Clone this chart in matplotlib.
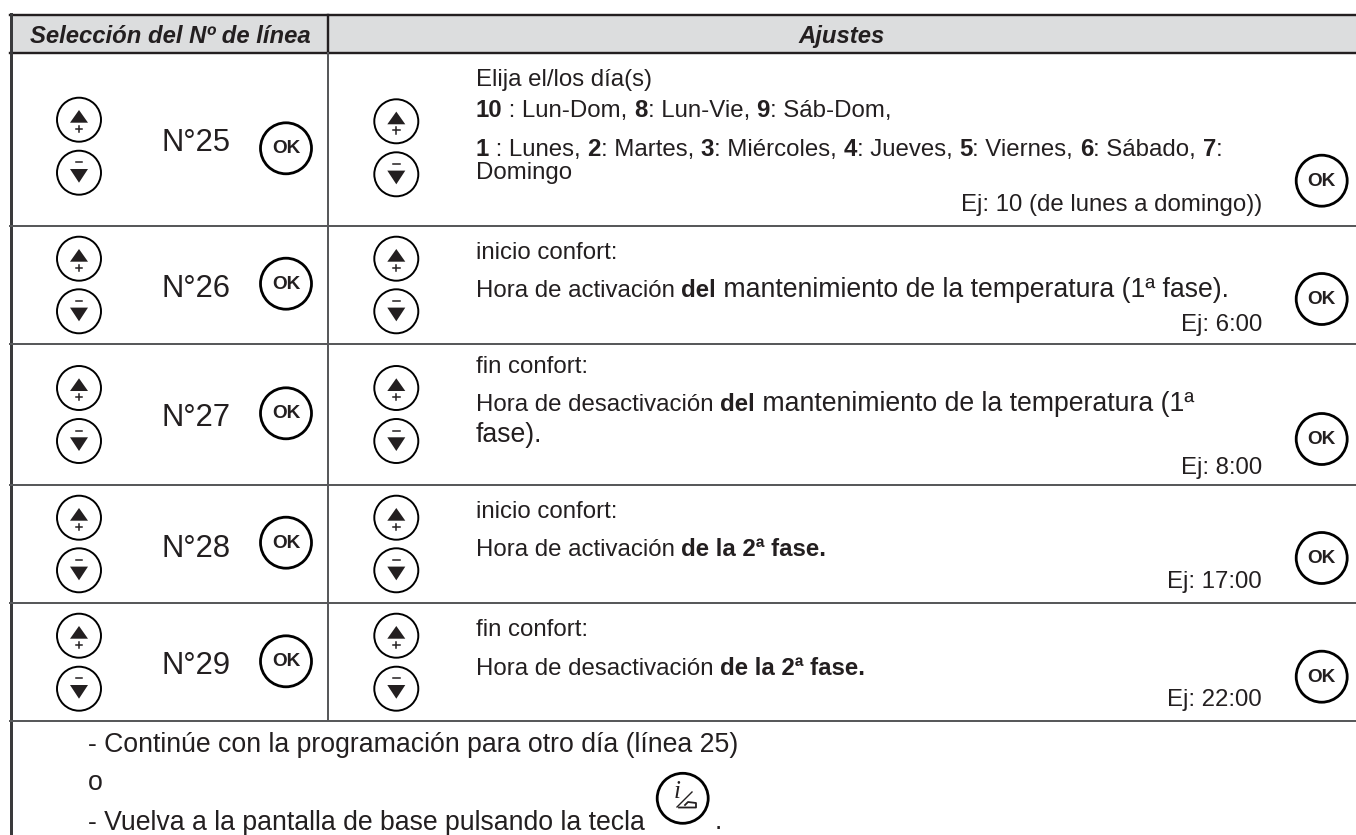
import matplotlib
matplotlib.use('Agg')
import matplotlib.pyplot as plt
from matplotlib.patches import Circle, Ellipse, Polygon, Rectangle

plt.rcParams['font.family'] = ['Liberation Sans', 'DejaVu Sans']

# contenido de la tabla
headers = ['Selección del Nº de línea', 'Ajustes']
line_nums = ['N°25', 'N°26', 'N°27', 'N°28', 'N°29']
examples = ['Ej: 10 (de lunes a domingo))', 'Ej: 6:00', 'Ej: 8:00', 'Ej: 17:00', 'Ej: 22:00']
# each line: (baseline y, [(text, bold, size in px)])
S = 24
L = 26.6
settings = [
    (86, [('Elija el/los día(s)', False, S)]),
    (116.7, [('10', True, S), (' : Lun-Dom, ', False, S), ('8', True, S), (': Lun-Vie, ', False, S),
             ('9', True, S), (': Sáb-Dom,', False, S)]),
    (156, [('1', True, S), (' : Lunes, ', False, S), ('2', True, S), (': Martes, ', False, S),
           ('3', True, S), (': Miércoles, ', False, S), ('4', True, S), (': Jueves, ', False, S),
           ('5', True, S), (': Viernes, ', False, S), ('6', True, S), (': Sábado, ', False, S),
           ('7', True, S), (':', False, S)]),
    (179.3, [('Domingo', False, S)]),
    (259.3, [('inicio confort:', False, S)]),
    (296.7, [('Hora de activación ', False, S), ('del', True, S),
             (' mantenimiento de la temperatura (1ª fase).', False, L)]),
    (373.3, [('fin confort:', False, S)]),
    (410.7, [('Hora de desactivación ', False, S), ('del', True, S),
             (' mantenimiento de la temperatura (1ª', False, L)]),
    (441.7, [('fase).', False, L)]),
    (518.3, [('inicio confort:', False, S)]),
    (555.7, [('Hora de activación ', False, S), ('de la 2ª fase.', True, S)]),
    (635.7, [('fin confort:', False, S)]),
    (675, [('Hora de desactivación ', False, S), ('de la 2ª fase.', True, S)]),
]
footer = ['- Continúe con la programación para otro día (línea 25)', 'o',
          '- Vuelva a la pantalla de base pulsando la tecla']

INK = '#231f20'
GRID = '#58595b'
px = 0.72  # px -> pt at dpi 100

# layout in image pixels
row_edges = [52.5, 225.5, 344, 484.7, 602.7, 721.3]
up_y = [119.7, 258.7, 388, 517.7, 635.7]
down_y = [172.7, 311.3, 441, 570.3, 688.7]
up_y2 = [121.3, 258.7, 388, 517.7, 635.7]
down_y2 = [174.3, 311.3, 441, 570.3, 688.7]
ok_y = [148.3, 283.7, 413.3, 542.7, 661.3]
ok_y2 = [180.7, 299, 439, 558, 676.7]
num_base = [150.7, 297.3, 426, 556.7, 674]
ex_base = [210.7, 331.5, 474, 588, 706]
footer_base = [752.5, 790, 829.5]

fig = plt.figure(figsize=(13.56, 8.35), dpi=100)
ax = fig.add_axes([0, 0, 1, 1])
ax.set_xlim(0, 1356)
ax.set_ylim(835, 0)
ax.axis('off')
renderer = fig.canvas.get_renderer()


def advance(txt, **kw):
    # trailing spaces get dropped by the extent, so measure against a dot
    a = ax.text(0, 0, txt + '.', **kw)
    b = ax.text(0, 0, '.', **kw)
    w = a.get_window_extent(renderer).width - b.get_window_extent(renderer).width
    a.remove()
    b.remove()
    return w


def rich_line(x, y, parts):
    for txt, bold, size in parts:
        kw = dict(fontsize=size * px, fontweight='bold' if bold else 'normal')
        ax.text(x, y, txt, color=INK, va='baseline', ha='left', **kw)
        x += advance(txt, **kw)


def arrows(x, yu, yd):
    ax.add_patch(Circle((x, yu), 22, fc='white', ec='black', lw=1.4))
    ax.add_patch(Circle((x, yd), 22, fc='white', ec='black', lw=1.4))
    ax.add_patch(Polygon([(x - 9, yu + 3), (x + 9, yu + 3), (x, yu - 9.7)], fc=INK, ec='none'))
    ax.add_patch(Polygon([(x - 9, yd - 3.7), (x + 9, yd - 3.7), (x, yd + 10)], fc=INK, ec='none'))
    ax.plot([x - 3.2, x + 3.2], [yu + 9, yu + 9], color=INK, lw=1.1)
    ax.plot([x, x], [yu + 5.8, yu + 12.2], color=INK, lw=1.1)
    ax.plot([x - 3.4, x + 3.4], [yd - 10.4, yd - 10.4], color=INK, lw=1.1)


def ok_btn(x, y):
    ax.add_patch(Circle((x, y), 25.5, fc='white', ec='black', lw=2.0))
    ax.text(x, y + 0.5, 'OK', color=INK, fontsize=19 * px, fontweight='bold', ha='center', va='center')


# header band and grid
ax.add_patch(Rectangle((10, 14.5), 1346, 38, fc='#dcddde', ec='none'))
ax.plot([10, 1356], [14.5, 14.5], color=INK, lw=2.4 * px)
ax.plot([10, 1356], [52.5, 52.5], color=INK, lw=2.4 * px)
ax.plot([328, 328], [14.5, 52.5], color=INK, lw=2.4 * px)
ax.plot([328, 328], [52.5, row_edges[-1]], color=GRID, lw=2 * px)
ax.plot([10.5, 10.5], [13.5, 835], color='#3a3a3c', lw=3 * px)
for y in row_edges[1:]:
    ax.plot([10, 1356], [y, y], color=GRID, lw=2 * px)

ax.text(170, 42.7, headers[0], color=INK, fontsize=23.9 * px, fontweight='bold', style='italic', ha='center', va='baseline')
ax.text(842, 42.7, headers[1], color=INK, fontsize=23.9 * px, fontweight='bold', style='italic', ha='center', va='baseline')

for i, num in enumerate(line_nums):
    arrows(79, up_y[i], down_y[i])
    arrows(396.3, up_y2[i], down_y2[i])
    ok_btn(286, ok_y[i])
    ok_btn(1321.7, ok_y2[i])
    ax.text(161, num_base[i], num, color=INK, fontsize=31 * px, ha='left', va='baseline')
    ax.text(1262, ex_base[i], examples[i], color=INK, fontsize=S * px, ha='right', va='baseline')

for y, parts in settings:
    rich_line(475.7, y, parts)

for txt, y in zip(footer, footer_base):
    ax.text(88, y, txt, color=INK, fontsize=L * px, ha='left', va='baseline')
ax.text(715, 829, '.', color=INK, fontsize=L * px, ha='left', va='baseline')

# tecla i
ax.add_patch(Ellipse((682.7, 798.3), 51, 50, fc='white', ec='black', lw=2.0))
ax.text(677, 798, 'i', color=INK, fontsize=25 * px, family='Liberation Serif', style='italic', ha='center', va='baseline')
ax.plot([677, 692], [807, 792], color=INK, lw=1)
ax.plot([679, 696, 696, 688, 685], [807.5, 807.5, 803, 802, 805], color=INK, lw=1.3)

fig.savefig('out.png', dpi=100)
